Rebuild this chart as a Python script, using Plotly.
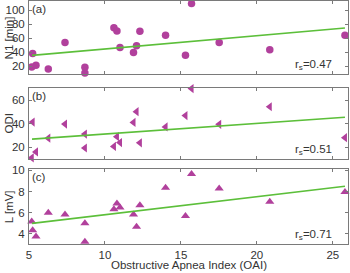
import plotly.graph_objects as go

# Obstructive Apnea Index for each subject (shared x)
oai = [5.18, 5.24, 5.46, 6.27, 7.37, 8.68, 8.68, 10.59, 10.79, 10.99,
       11.88, 12.08, 12.3, 13.99, 15.3, 15.7, 17.52, 20.85, 25.8]
n1_min = [19, 38, 21.5, 16, 54, 18.6, 10.5, 75, 70.4, 46.8,
          39.7, 49.2, 69.8, 64.1, 35.5, 109.5, 53.9, 43.6, 64.1]
odi = [11.2, 41.5, 16.2, 27.8, 39.8, 31.3, 19.5, 20.8, 29.1, 24.1,
       41.2, 50.3, 23.9, 37.4, 47, 69.9, 39.6, 54.5, 28.3]
l_mv = [5.18, 4.36, 3.77, 6.0, 5.83, 5.01, 3.27, 6.33, 6.88, 6.49,
        5.83, 4.69, 6.72, 8.36, 5.70, 9.67, 8.29, 7.05, 7.96]

# fitted regression line end points
fit_x = [5.2, 25.8]
fit_n1 = [35.5, 74.6]
fit_odi = [27.0, 45.6]
fit_l = [5.0, 8.5]

rs_labels = ["0.47", "0.51", "0.71"]
panel_labels = ["(a)", "(b)", "(c)"]
y_titles = ["N1 [min]", "ODI", "L [mV]"]
y_ranges = [[8.7, 112.4], [10, 70], [3.05, 10.1]]
y_ticks = [[20, 40, 60, 80, 100], [20, 40, 60], [4, 6, 8, 10]]
x_ticks = [5, 10, 15, 20, 25]
x_title = "Obstructive Apnea Index (OAI)"

MAG = "#B1409C"
GRN = "#5CBF3A"
AX = "#7a7a7a"
TXT = "#333333"
FONT = "Liberation Sans, Arial, sans-serif"
FS = 11.5

fig = go.Figure()
domains = [[0.699, 0.998], [0.349, 0.640], [0.0, 0.307]]
series = [n1_min, odi, l_mv]
fits = [fit_n1, fit_odi, fit_l]
symbols = ["circle", "triangle-left", "triangle-up"]

for i in range(3):
    xa = "x" if i == 0 else f"x{i+1}"
    ya = "y" if i == 0 else f"y{i+1}"
    fig.add_trace(go.Scatter(x=oai, y=series[i], mode="markers", xaxis=xa, yaxis=ya,
                             marker=dict(symbol=symbols[i], size=7.5 if i == 0 else 8,
                                         color=MAG, line=dict(width=0)),
                             cliponaxis=False, showlegend=False))
    fig.add_trace(go.Scatter(x=fit_x, y=fits[i], mode="lines", xaxis=xa, yaxis=ya,
                             line=dict(color=GRN, width=1.6), showlegend=False))
    xkey = "xaxis" if i == 0 else f"xaxis{i+1}"
    ykey = "yaxis" if i == 0 else f"yaxis{i+1}"
    fig.layout[xkey] = dict(
        domain=[0, 1], anchor=ya, range=[5, 26], tickvals=x_ticks,
        showticklabels=(i == 2), ticks="inside", ticklen=3, tickcolor=AX,
        showline=True, linecolor=AX, linewidth=1, mirror="ticks",
        showgrid=False, zeroline=False, automargin=False, ticklabelstandoff=0,
        tickfont=dict(family=FONT, size=FS, color=TXT),
    )
    fig.layout[ykey] = dict(
        domain=domains[i], anchor=xa, range=y_ranges[i], tickvals=y_ticks[i],
        ticks="inside", ticklen=3, tickcolor=AX,
        showline=True, linecolor=AX, linewidth=1, mirror="ticks",
        showgrid=False, zeroline=False, ticklabelstandoff=1, automargin=False,
        tickfont=dict(family=FONT, size=FS, color=TXT),
    )
    d0, d1 = domains[i]
    fig.add_annotation(x=-0.064, y=(d0 + d1) / 2, xref="paper", yref="paper",
                       text=y_titles[i], showarrow=False, textangle=-90,
                       xanchor="center", yanchor="middle",
                       font=dict(family=FONT, size=FS, color=TXT))
    fig.add_annotation(x=0.004, y=1.005, xref=f"{xa} domain", yref=f"{ya} domain",
                       text=panel_labels[i], showarrow=False, xanchor="left", yanchor="top",
                       font=dict(family=FONT, size=FS, color=TXT))
    fig.add_annotation(x=0.956, y=0.0, xref=f"{xa} domain", yref=f"{ya} domain",
                       text="r<sub>s</sub>=" + rs_labels[i], showarrow=False,
                       xanchor="right", yanchor="bottom",
                       font=dict(family=FONT, size=FS, color=TXT))

fig.add_annotation(x=0.5, y=-0.087, xref="paper", yref="paper", text=x_title,
                   showarrow=False, xanchor="center", yanchor="middle", borderpad=0,
                   font=dict(family=FONT, size=FS, color=TXT))

fig.update_layout(width=350, height=273, margin=dict(l=28.5, r=2, t=0.5, b=28.5),
                  plot_bgcolor="white", paper_bgcolor="white")
fig.write_html("out.html", config={"displayModeBar": False},
               post_script="document.body.style.margin='0';document.body.style.padding='0';"
                           "document.body.style.overflow='hidden';")
